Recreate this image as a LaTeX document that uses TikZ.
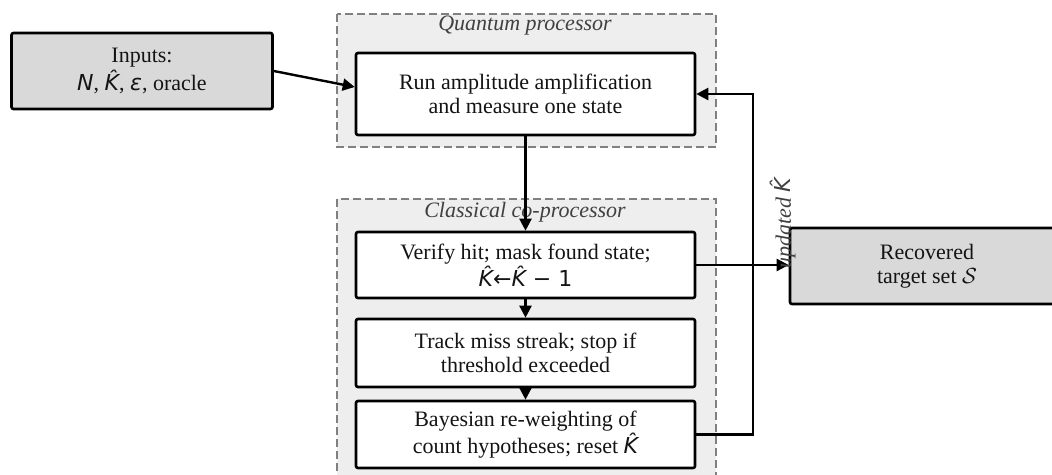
\documentclass[tikz,border=0pt]{standalone}
\usepackage{fontspec}
\setmainfont{Liberation Serif}
\newfontfamily\dvs{DejaVu Sans}
\usetikzlibrary{arrows.meta}
\newcommand{\mv}[1]{{\dvs\itshape #1}}
\newcommand{\Kh}{\mv{K̂}}
\begin{document}
\begin{tikzpicture}[x=0.5pt,y=-0.5pt,
  every node/.style={font=\fontsize{11}{12}\selectfont, text=black!92},
  proc/.style={draw=black, line width=1.3pt, fill=white, rounded corners=1pt, align=center, inner sep=0pt},
  io/.style={proc, fill=gray!30},
  grp/.style={draw=gray, dash pattern=on 4pt off 2pt, line width=0.8pt, fill=gray!13},
  grplabel/.style={font=\fontsize{11}{12}\selectfont\itshape, text=black!75},
  arr/.style={line width=1.2pt, -{Triangle[length=6pt,width=6pt]}}]
\useasboundingbox (0,0) rectangle (1052,475);
\begin{scope}
\clip (0,0) rectangle (1052,475);
% group boxes
\draw[grp] (337,14) rectangle (716,147);
\draw[grp] (337,199) rectangle (716,492);
\node[grplabel] (ql) at (525,26) {Quantum processor};
\node[grplabel] (cl) at (525,212) {Classical co-processor};
% nodes
\node[io, minimum width=130.5pt, minimum height=38pt] (in) at (142,71) {Inputs:\\ \mv{N}, \Kh, \mv{ε}, oracle};
\node[proc, minimum width=169.5pt, minimum height=41pt] (run) at (525.5,94) {Run amplitude amplification\\ and measure one state};
\node[proc, minimum width=169.5pt, minimum height=33pt] (ver) at (525.5,265) {Verify hit; mask found state;\\ \Kh{\dvs ←}\Kh{\dvs\ −\ 1}};
\node[proc, minimum width=169.5pt, minimum height=34pt] (trk) at (525.5,353) {Track miss streak; stop if\\ threshold exceeded};
\node[proc, minimum width=169.5pt, minimum height=33.5pt] (bay) at (525.5,434.5) {Bayesian re-weighting of\\ count hypotheses; reset \Kh};
\node[io, minimum width=137pt, minimum height=38pt] (rec) at (927,266) {Recovered\\ target set $\mathcal{S}$};
% connectors
\draw[arr] (in.east) -- ([yshift=3.5pt]run.west);
\draw[arr] (run.south) -- (ver.north);
\draw[arr] (ver.south) -- (trk.north);
\draw[arr] (trk.south) -- (bay.north);
\draw[arr] (ver.east) -- (ver.east -| rec.west);
\coordinate (fb) at (753,0);
\draw[arr] (bay.east) -- (bay.east -| fb) -- (run.east -| fb) -- (run.east);
\node[font=\fontsize{11}{12}\selectfont\itshape, text=black!75, rotate=90] (upd) at (783,223) {updated \Kh};
\end{scope}
\end{tikzpicture}
\end{document}
